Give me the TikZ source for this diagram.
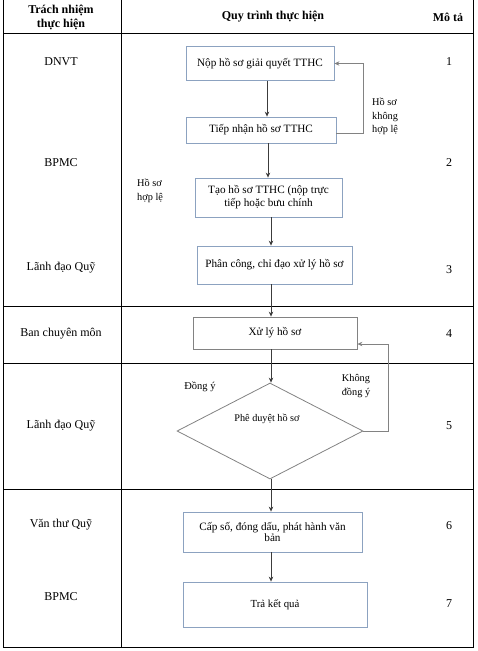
\documentclass[tikz,border=0pt]{standalone}
\usepackage{fontspec}
\setmainfont{Liberation Serif}
\usetikzlibrary{arrows.meta,shapes.geometric}
\definecolor{boxblue}{RGB}{140,162,192}
\definecolor{boxgray}{RGB}{130,130,130}
\definecolor{linkgray}{RGB}{60,60,60}
\begin{document}
\begin{tikzpicture}[x=1pt,y=-1pt,
  txt/.style={font=\fontsize{12}{14}\selectfont, inner sep=0pt},
  hdr/.style={font=\bfseries\fontsize{12}{14}\selectfont, inner sep=0pt, align=center},
  stepbox/.style={draw=boxblue, line width=0.8pt, inner sep=2pt, align=center,
    font=\fontsize{11.2}{13}\selectfont},
  graybox/.style={draw=boxgray, line width=0.8pt, inner sep=2pt, align=center,
    font=\fontsize{11.2}{13}\selectfont},
  flow/.style={draw=linkgray, line width=1pt, -{Stealth[length=5pt,width=4.5pt]}},
  back/.style={draw=boxgray, line width=0.8pt, -{Stealth[length=5pt,width=4.5pt]}},
  note/.style={font=\fontsize{10.3}{13.5}\selectfont, inner sep=0pt, align=left, anchor=north west},
  grid/.style={draw=black, line width=0.9pt}]
\useasboundingbox (0,0) rectangle (478,651);

% table
\draw[grid] (3,0) -- (3,647) -- (473,647) -- (473,0);
\draw[grid] (121,0) -- (121,647);
\draw[grid] (3,33) -- (473,33);
\draw[grid] (3,306) -- (473,306);
\draw[grid] (3,363) -- (473,363);
\draw[grid] (3,489) -- (473,489);

% header
\node[hdr] (h1) at (61,17) {Trách nhiệm\\thực hiện};
\node[hdr] (h2) at (273,17) {Quy trình thực hiện};
\node[hdr] (h3) at (448,17) {Mô tả};

% responsibility column
\node[txt] (r1) at (61,62) {DNVT};
\node[txt] (r2) at (61,163) {BPMC};
\node[txt] (r3) at (61,268) {Lãnh đạo Quỹ};
\node[txt] (r4) at (61,334) {Ban chuyên môn};
\node[txt] (r5) at (61,426) {Lãnh đạo Quỹ};
\node[txt] (r6) at (61,525) {Văn thư Quỹ};
\node[txt] (r7) at (61,597) {BPMC};

% description column
\node[txt] (d1) at (449,62) {1};
\node[txt] (d2) at (449,163) {2};
\node[txt] (d3) at (449,270) {3};
\node[txt] (d4) at (449,334) {4};
\node[txt] (d5) at (449,426) {5};
\node[txt] (d6) at (449,526) {6};
\node[txt] (d7) at (449,604) {7};

% process boxes
\node[stepbox, minimum width=148pt, minimum height=34pt] (n1) at (260,63.5) {Nộp hồ sơ giải quyết TTHC};
\node[stepbox, minimum width=150pt, minimum height=26pt] (n2) at (261,130) {Tiếp nhận hồ sơ TTHC};
\node[stepbox, minimum width=147pt, minimum height=39pt] (n3) at (268.5,197.5) {Tạo hồ sơ TTHC (nộp trực\\tiếp hoặc bưu chính};
\node[stepbox, minimum width=155pt, minimum height=38pt] (n4) at (274.5,265) {Phân công, chỉ đạo xử lý hồ sơ};
\node[graybox, minimum width=164pt, minimum height=32pt] (n5) at (275,333) {Xử lý hồ sơ};
\node[diamond, draw=boxgray, line width=0.8pt, inner sep=0pt, minimum width=186pt, minimum height=96pt] (dm) at (270,431) {};
\node[txt, font=\fontsize{10.2}{12}\selectfont] (dmt) at (267,419) {Phê duyệt hồ sơ};
\node[stepbox, minimum width=179pt, minimum height=40pt, font=\fontsize{11.2}{11.8}\selectfont] (n6) at (272.5,532) {Cấp số, đóng dấu, phát hành văn\\bản};
\node[stepbox, minimum width=184pt, minimum height=45pt, font=\fontsize{10.8}{13}\selectfont] (n7) at (275,604.5) {Trả kết quả};

% helper x positions
\coordinate (xa) at (267,0);
\coordinate (xb) at (268,0);
\coordinate (xc) at (271,0);
\coordinate (fb1) at (363,0);
\coordinate (fb2) at (388,0);
\coordinate (y5) at (0,344);
\coordinate (y2) at (0,133);

% main flow
\draw[flow] (n1.south -| xa) -- (n2.north -| xa);
\draw[flow] (n2.south -| xb) -- (n3.north -| xb);
\draw[flow] (n3.south -| xc) -- (n4.north -| xc);
\draw[flow] (n4.south -| xc) -- (n5.north -| xc);
\draw[flow] (n5.south -| xc) -- (dm.north -| xc);
\draw[flow] (dm.south -| xc) -- (n6.north -| xc);
\draw[flow] (n6.south -| xc) -- (n7.north -| xc);

% feedback loops
\draw[back] (n2.east |- y2) -- (fb1 |- y2) -- (fb1 |- n1.east) -- (n1.east);
\draw[back] (dm.east) -- (fb2 |- dm.east) -- (fb2 |- y5) -- (n5.east |- y5);

% labels
\node[note] (l1) at (372,98) {Hồ sơ\\không\\hợp lệ};
\node[note] (l2) at (137,179) {Hồ sơ\\hợp lệ};
\node[txt, font=\fontsize{10.5}{12}\selectfont] (l3) at (200,387) {Đồng ý};
\node[txt, align=center, font=\fontsize{10.3}{13.5}\selectfont] (l4) at (356,386) {Không\\đồng ý};
\end{tikzpicture}
\end{document}
